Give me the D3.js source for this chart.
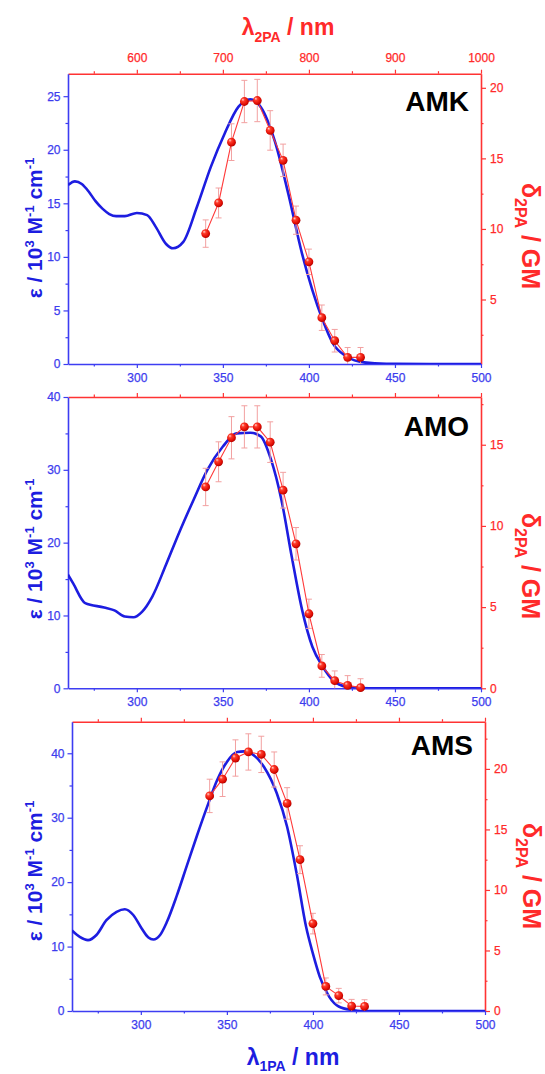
<!DOCTYPE html>
<html><head><meta charset="utf-8">
<script src="https://cdn.jsdelivr.net/npm/d3@7"></script>
<style>
body{margin:0;background:#fff}
svg{display:block}
text{font-family:"Liberation Sans",Arial,Helvetica,sans-serif}
</style>
</head><body>
<svg id="chart" width="545" height="1074"></svg>
<script>
// ---------- data ----------
const ticks1PA = [300, 350, 400, 450, 500];
const minor1PA = [275, 325, 375, 425, 475];
const ticks2PA = [600, 700, 800, 900, 1000];
const minor2PA = [550, 650, 750, 850, 950];

// two-photon excitation wavelengths (nm)
const lambda2PA = [680, 695, 710, 725, 740, 755, 770, 785, 800, 815, 830, 845, 860];

// AMK
const amkAbsX = [260, 264, 268, 272, 276, 280, 284, 288, 293, 300, 306, 311, 317, 321, 327, 335, 343, 351, 359, 366, 372, 380, 388, 396, 402, 408, 414, 422, 432, 445, 470, 500];
const amkAbsY = [16.7, 17.05, 16.8, 16.1, 15.2, 14.5, 14.0, 13.8, 13.8, 14.1, 13.9, 12.8, 11.2, 10.8, 11.4, 14.7, 18.4, 21.5, 24.0, 24.7, 24.0, 20.9, 15.9, 10.3, 6.9, 4.1, 1.9, 0.7, 0.15, 0.02, 0, 0];
const amkDelta = [9.67, 11.84, 16.15, 19.03, 19.1, 16.98, 14.86, 10.62, 7.67, 3.71, 2.08, 0.9, 0.9];
const amkErr = [0.97, 1.06, 1.3, 1.5, 1.5, 1.4, 1.15, 1.0, 0.9, 0.9, 0.8, 0.7, 0.7];

// AMO
const amoAbsX = [260, 263, 270, 281, 287, 293, 298, 303, 309, 317, 325, 333, 341, 350, 358, 366, 372, 378, 384, 390, 396, 402, 408, 414, 422, 430, 440, 500];
const amoAbsY = [15.6, 14.4, 11.7, 11.1, 10.7, 9.85, 9.75, 10.5, 12.6, 17.0, 21.6, 25.9, 30.0, 33.2, 35.0, 35.1, 34.6, 31.4, 25.9, 18.1, 10.8, 5.7, 3.0, 1.1, 0.2, 0.05, 0, 0];
const amoDelta = [12.4, 13.95, 15.43, 16.1, 16.1, 15.16, 12.2, 8.9, 4.59, 1.38, 0.47, 0.18, 0.04];
const amoErr = [1.15, 1.23, 1.3, 1.3, 1.3, 1.25, 1.1, 1.0, 0.9, 0.7, 0.6, 0.6, 0.55];

// AMS
const amsAbsX = [260, 264.5, 269.3, 274.2, 280, 285.9, 290.7, 295.6, 300.5, 304.4, 307.3, 311.2, 315.1, 320.9, 326.8, 332.6, 338.4, 344.3, 350.1, 356, 360, 364, 371.5, 379, 385, 390.5, 396, 400, 404, 409.5, 415, 423, 428, 440, 500];
const amsAbsY = [12.5, 11.5, 11.0, 11.8, 14.1, 15.4, 15.8, 14.9, 12.8, 11.4, 11.1, 11.8, 13.8, 17.9, 22.6, 27.2, 31.6, 35.8, 38.7, 40.2, 40.3, 40.0, 37.9, 33.8, 28.6, 21.4, 13.1, 8.9, 5.3, 2.2, 0.7, 0.15, 0, 0, 0];
const amsDelta = [17.77, 19.15, 20.9, 21.4, 21.2, 19.95, 17.15, 12.5, 7.22, 2.03, 1.27, 0.41, 0.38];
const amsErr = [1.38, 1.43, 1.5, 1.5, 1.5, 1.45, 1.3, 1.15, 0.85, 0.7, 0.6, 0.55, 0.55];

// axis ticks (y)
const amkEpsTicks = [0, 5, 10, 15, 20, 25], amkEpsMinor = [2.5, 7.5, 12.5, 17.5, 22.5];
const amkDTicks = [5, 10, 15, 20], amkDMinor = [2.5, 7.5, 12.5, 17.5];
const amoEpsTicks = [0, 10, 20, 30, 40], amoEpsMinor = [5, 15, 25, 35];
const amoDTicks = [0, 5, 10, 15], amoDMinor = [2.5, 7.5, 12.5, 17.5];
const amsEpsTicks = [0, 10, 20, 30, 40], amsEpsMinor = [5, 15, 25, 35];
const amsDTicks = [0, 5, 10, 15, 20], amsDMinor = [2.5, 7.5, 12.5, 17.5, 22.5];

// ---------- layout / style ----------
const BLUE_AX = "#3d3df2", BLUE_TXT = "#3c3cee", BLUE_LINE = "#1d1de0";
const RED_AX = "#ff3333", RED_TXT = "#ff2a2a", RED_LINE = "#ff3a3a", RED_ERR = "#f2a0a0";

const panels = [
  {name: "AMK", ax: amkAbsX, ay: amkAbsY, d: amkDelta, e: amkErr,
   L: 68, R: 481, T: 73.7, B: 364, epsDom: [0, 27.1], dDom: [0.43, 21.0],
   epsT: amkEpsTicks, epsM: amkEpsMinor, dT: amkDTicks, dM: amkDMinor,
   topLabels: true, leftC: 228, rightC: 236, rightX: 522, nameY: 111},
  {name: "AMO", ax: amoAbsX, ay: amoAbsY, d: amoDelta, e: amoErr,
   L: 68, R: 481, T: 397, B: 688.3, epsDom: [0, 40], dDom: [0, 17.94],
   epsT: amoEpsTicks, epsM: amoEpsMinor, dT: amoDTicks, dM: amoDMinor,
   topLabels: false, leftC: 549, rightC: 566, rightX: 522, nameY: 436},
  {name: "AMS", ax: amsAbsX, ay: amsAbsY, d: amsDelta, e: amsErr,
   L: 72, R: 485, T: 721.7, B: 1011, epsDom: [0, 44.9], dDom: [0, 23.9],
   epsT: amsEpsTicks, epsM: amsEpsMinor, dT: amsDTicks, dM: amsDMinor,
   topLabels: false, leftC: 871, rightC: 876, rightX: 523, nameY: 755}
];

const svg = d3.select("#chart");
const defs = svg.append("defs");
const g = defs.append("radialGradient").attr("id", "sph")
  .attr("cx", "0.42").attr("cy", "0.4").attr("r", "0.62").attr("fx", "0.32").attr("fy", "0.28");
g.append("stop").attr("offset", "0%").attr("stop-color", "#ffd6d0");
g.append("stop").attr("offset", "30%").attr("stop-color", "#ff3b2b");
g.append("stop").attr("offset", "80%").attr("stop-color", "#dd0a00");
g.append("stop").attr("offset", "100%").attr("stop-color", "#a80000");

function styleAxis(sel, color, txtColor) {
  sel.select(".domain").attr("stroke", color).attr("stroke-width", 1.6);
  sel.selectAll(".tick line").attr("stroke", color).attr("stroke-width", 1.2);
  sel.selectAll(".tick text").attr("fill", txtColor).attr("font-size", 12)
     .attr("stroke", txtColor).attr("stroke-width", 0.25)
     .attr("font-family", "Liberation Sans, Arial, sans-serif");
}

panels.forEach((p, i) => {
  const x = d3.scaleLinear().domain([260, 500]).range([p.L, p.R]);
  const x2 = d3.scaleLinear().domain([520, 1000]).range([p.L, p.R]);
  const yE = d3.scaleLinear().domain(p.epsDom).range([p.B, p.T]);
  const yD = d3.scaleLinear().domain(p.dDom).range([p.B, p.T]);
  const gp = svg.append("g");

  const clipId = "clip" + i;
  defs.append("clipPath").attr("id", clipId).append("rect")
    .attr("x", p.L).attr("y", p.T).attr("width", p.R - p.L).attr("height", p.B - p.T);

  // minor ticks
  gp.append("g").attr("transform", `translate(0,${p.B})`)
    .call(d3.axisBottom(x).tickValues(minor1PA).tickSize(2.5).tickFormat(""))
    .call(s => { s.select(".domain").remove(); s.selectAll("line").attr("stroke", BLUE_AX).attr("stroke-width", 1.2); });
  gp.append("g").attr("transform", `translate(0,${p.T})`)
    .call(d3.axisTop(x2).tickValues(minor2PA).tickSize(2.5).tickFormat(""))
    .call(s => { s.select(".domain").remove(); s.selectAll("line").attr("stroke", RED_AX).attr("stroke-width", 1.2); });
  gp.append("g").attr("transform", `translate(${p.L},0)`)
    .call(d3.axisLeft(yE).tickValues(p.epsM).tickSize(2.5).tickFormat(""))
    .call(s => { s.select(".domain").remove(); s.selectAll("line").attr("stroke", BLUE_AX).attr("stroke-width", 1.2); });
  gp.append("g").attr("transform", `translate(${p.R},0)`)
    .call(d3.axisRight(yD).tickValues(p.dM).tickSize(2.5).tickFormat(""))
    .call(s => { s.select(".domain").remove(); s.selectAll("line").attr("stroke", RED_AX).attr("stroke-width", 1.2); });

  // major axes
  gp.append("g").attr("transform", `translate(0,${p.T})`)
    .call(d3.axisTop(x2).tickValues(ticks2PA).tickSize(4).tickSizeOuter(0).tickPadding(8)
      .tickFormat(p.topLabels ? d3.format("d") : ""))
    .call(s => styleAxis(s, RED_AX, RED_TXT));
  gp.append("g").attr("transform", `translate(${p.R},0)`)
    .call(d3.axisRight(yD).tickValues(p.dT).tickSize(5).tickSizeOuter(0).tickPadding(4).tickFormat(d3.format("d")))
    .call(s => styleAxis(s, RED_AX, RED_TXT));
  gp.append("g").attr("transform", `translate(0,${p.B})`)
    .call(d3.axisBottom(x).tickValues(ticks1PA).tickSize(4).tickSizeOuter(0).tickPadding(5.5).tickFormat(d3.format("d")))
    .call(s => styleAxis(s, BLUE_AX, BLUE_TXT));
  gp.append("g").attr("transform", `translate(${p.L},0)`)
    .call(d3.axisLeft(yE).tickValues(p.epsT).tickSize(4.5).tickSizeOuter(0).tickPadding(3).tickFormat(d3.format("d")))
    .call(s => styleAxis(s, BLUE_AX, BLUE_TXT));

  // blue absorption curve
  const abs = p.ax.map((v, k) => [v, p.ay[k]]);
  gp.append("path").datum(abs)
    .attr("clip-path", `url(#${clipId})`)
    .attr("fill", "none").attr("stroke", BLUE_LINE).attr("stroke-width", 2.6)
    .attr("stroke-linejoin", "round")
    .attr("d", d3.line().x(d => x(d[0])).y(d => yE(d[1])).curve(d3.curveMonotoneX));

  // red 2PA data
  const tp = lambda2PA.map((v, k) => ({l: v, d: p.d[k], e: p.e[k]}));
  const eb = gp.append("g").attr("stroke", RED_ERR).attr("stroke-width", 1);
  tp.forEach(t => {
    const cx = x2(t.l), yt = yD(t.d + t.e), yb = yD(Math.max(t.d - t.e, p.dDom[0]));
    eb.append("line").attr("x1", cx).attr("x2", cx).attr("y1", yt).attr("y2", yb);
    eb.append("line").attr("x1", cx - 3).attr("x2", cx + 3).attr("y1", yt).attr("y2", yt);
    if (t.d - t.e > p.dDom[0]) eb.append("line").attr("x1", cx - 3).attr("x2", cx + 3).attr("y1", yb).attr("y2", yb);
  });
  gp.append("path").datum(tp)
    .attr("fill", "none").attr("stroke", RED_LINE).attr("stroke-width", 1.1)
    .attr("d", d3.line().x(d => x2(d.l)).y(d => yD(d.d)));
  gp.selectAll("circle.pt").data(tp).join("circle")
    .attr("cx", d => x2(d.l)).attr("cy", d => yD(d.d)).attr("r", 4.4)
    .attr("fill", "url(#sph)");

  // compound name
  gp.append("text").attr("x", p.R - 12).attr("y", p.nameY)
    .attr("text-anchor", "end").attr("font-size", 28).attr("font-weight", "bold")
    .attr("fill", "#000").text(p.name);

  // left label
  const lt = gp.append("text")
    .attr("transform", `translate(42,${p.leftC}) rotate(-90)`)
    .attr("text-anchor", "middle").attr("font-size", 21).attr("font-weight", "bold")
    .attr("fill", BLUE_LINE);
  lt.append("tspan").text("ε / 10");
  lt.append("tspan").attr("dy", -8).attr("font-size", 13).text("3");
  lt.append("tspan").attr("dy", 8).text(" M");
  lt.append("tspan").attr("dy", -8).attr("font-size", 13).text("-1");
  lt.append("tspan").attr("dy", 8).text(" cm");
  lt.append("tspan").attr("dy", -8).attr("font-size", 13).text("-1");

  // right label
  const rt = gp.append("text")
    .attr("transform", `translate(${p.rightX},${p.rightC}) rotate(90)`)
    .attr("text-anchor", "middle").attr("font-size", 25).attr("font-weight", "bold")
    .attr("fill", RED_TXT);
  rt.append("tspan").text("δ");
  rt.append("tspan").attr("dy", 7).attr("font-size", 16).text("2PA");
  rt.append("tspan").attr("dy", -7).text(" / GM");
});

// top title
const tt = svg.append("text").attr("x", 288).attr("y", 35)
  .attr("text-anchor", "middle").attr("font-size", 23).attr("font-weight", "bold").attr("fill", RED_TXT);
tt.append("tspan").text("λ");
tt.append("tspan").attr("dy", 7).attr("font-size", 14).text("2PA");
tt.append("tspan").attr("dy", -7).text(" / nm");

// bottom title
const bt = svg.append("text").attr("x", 293).attr("y", 1065)
  .attr("text-anchor", "middle").attr("font-size", 23).attr("font-weight", "bold").attr("fill", BLUE_LINE);
bt.append("tspan").text("λ");
bt.append("tspan").attr("dy", 6).attr("font-size", 14).text("1PA");
bt.append("tspan").attr("dy", -6).text(" / nm");
</script>
</body></html>
